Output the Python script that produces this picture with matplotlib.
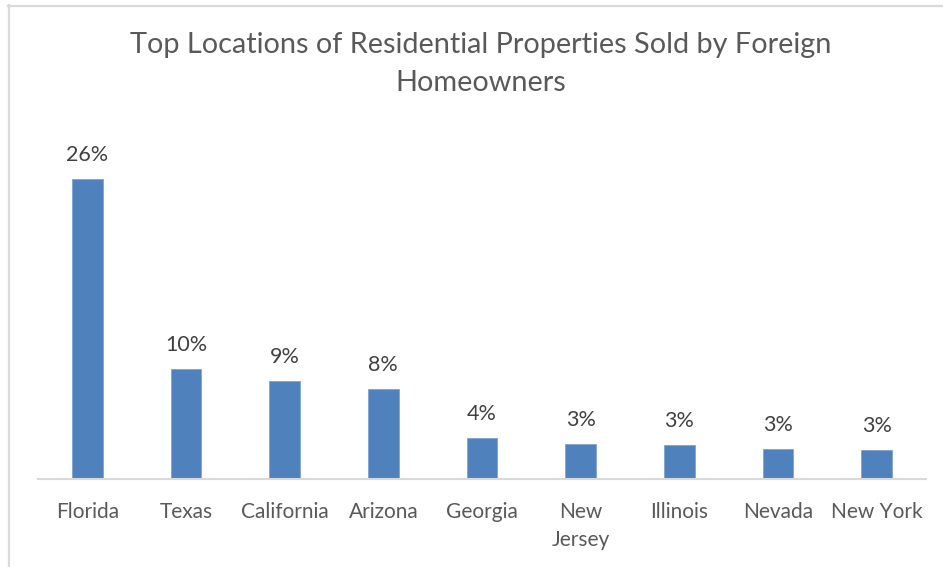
import matplotlib
matplotlib.use("Agg")
import matplotlib.pyplot as plt
from matplotlib.lines import Line2D

# Share of residential properties sold by foreign homeowners, by state (%)
states = ["Florida", "Texas", "California", "Arizona", "Georgia",
          "New\nJersey", "Illinois", "Nevada", "New York"]
shares = [26.2, 9.6, 8.55, 7.9, 3.6, 3.1, 3.0, 2.65, 2.55]

title = "Top Locations of Residential Properties Sold by Foreign\nHomeowners"

W, H = 943, 567
DPI = 100
fig = plt.figure(figsize=(W / DPI, H / DPI), dpi=DPI)
fig.patch.set_facecolor("white")

FONT = "Lato"
TEXT = "#595959"
BAR = "#4f81bd"
GRID = "#d9d9d9"

# plot area in pixels (left, top, right, bottom)
px_l, px_r = 38, 926
px_b = 479.3
ymax = 30.0
px_per_unit = 11.46
px_t = px_b - ymax * px_per_unit

ax = fig.add_axes([px_l / W, (H - px_b) / H, (px_r - px_l) / W, (px_b - px_t) / H])
ax.set_facecolor("none")

x = range(len(states))
ax.bar(x, shares, width=0.314, color=BAR, edgecolor="#7fa3d1", linewidth=0.6, zorder=2)
ax.set_xlim(-0.5, len(states) - 0.5)
ax.set_ylim(0, ymax)

for xi, v in zip(x, shares):
    ax.annotate(f"{v:.0f}%", (xi, v), xytext=(0, 10), textcoords="offset points",
                ha="center", va="bottom", fontsize=15.5, color="#404040",
                family=FONT)

ax.set_xticks(list(x))
ax.set_xticklabels(states, fontsize=15, color=TEXT, family=FONT, linespacing=1.55)
ax.tick_params(axis="x", length=0, pad=16)
ax.set_yticks([])
for side in ("left", "right", "top"):
    ax.spines[side].set_visible(False)
ax.spines["bottom"].set_color(GRID)
ax.spines["bottom"].set_linewidth(1.5)

fig.text(481 / W, 1 - 32 / H, title, ha="center", va="top", fontsize=20.8,
         color=TEXT, family=FONT, fontweight="normal", linespacing=1.55)

# chart frame (top and left edges)
fig.add_artist(Line2D([8.5 / W, 8.5 / W], [0, 1 - 5 / H], transform=fig.transFigure,
                      color=GRID, linewidth=1.6))
fig.add_artist(Line2D([8 / W, 1], [1 - 5.5 / H, 1 - 5.5 / H], transform=fig.transFigure,
                      color=GRID, linewidth=1.6))

fig.savefig("out.png", dpi=DPI, facecolor="white")
